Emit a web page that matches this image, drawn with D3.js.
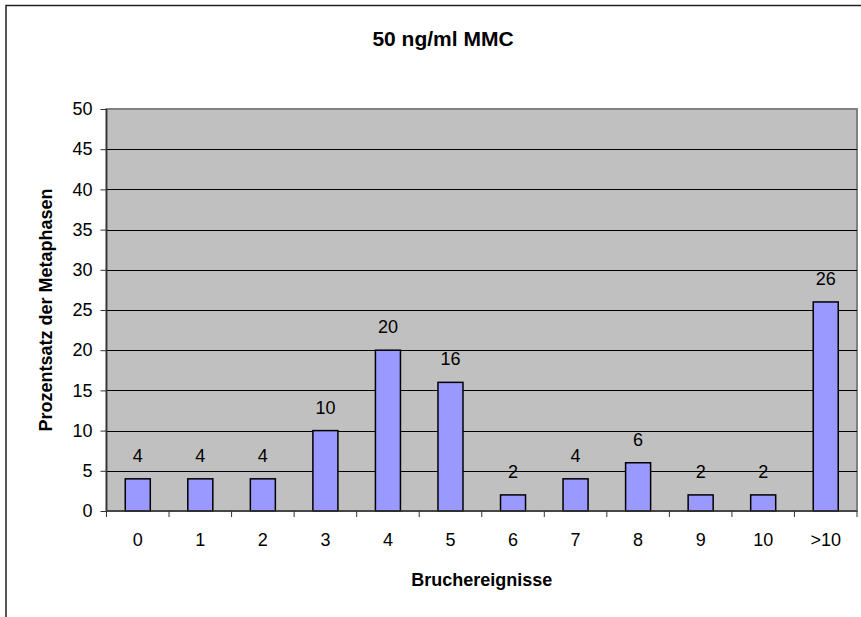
<!DOCTYPE html>
<html><head><meta charset="utf-8">
<script src="https://cdn.jsdelivr.net/npm/d3@7"></script>
<style>body{margin:0;background:#fff}svg{display:block}</style>
</head><body>
<svg id="c" width="861" height="617"></svg>
<script>
const categories = ["0","1","2","3","4","5","6","7","8","9","10",">10"];
const values = [4,4,4,10,20,16,2,4,6,2,2,26];
const yTicks = [0,5,10,15,20,25,30,35,40,45,50];
const title = "50 ng/ml MMC";
const xTitle = "Bruchereignisse";
const yTitle = "Prozentsatz der Metaphasen";

const svg = d3.select("#c");
const font = "Arial, 'Liberation Sans', sans-serif";
const L = 106.5, R = 857, T = 109, B = 511;

svg.append("rect").attr("x",6).attr("y",5.5).attr("width",1000).attr("height",1000)
  .attr("fill","#fff").attr("stroke","#222").attr("stroke-width",1.5);

const x = d3.scaleBand().domain(categories).range([L,R]).paddingInner(0).paddingOuter(0);
const y = d3.scaleLinear().domain([0,50]).range([B,T]);

svg.append("rect").attr("x",L).attr("y",T).attr("width",R-L).attr("height",B-T)
  .attr("fill","#C0C0C0").attr("stroke","#808080").attr("stroke-width",2);

svg.append("g").selectAll("line").data(yTicks.filter(d=>d>0&&d<50)).join("line")
  .attr("x1",L).attr("x2",R).attr("y1",d=>Math.round(y(d))+0.5).attr("y2",d=>Math.round(y(d))+0.5)
  .attr("stroke","#000").attr("stroke-width",1);

const bw = x.bandwidth()/2.5;
svg.append("g").selectAll("rect").data(values).join("rect")
  .attr("x",(d,i)=>x(categories[i])+x.bandwidth()/2-bw/2)
  .attr("y",d=>y(d)).attr("width",bw).attr("height",d=>B-y(d))
  .attr("fill","#9999FF").attr("stroke","#000").attr("stroke-width",1.5);

svg.append("g").selectAll("text").data(values).join("text")
  .attr("x",(d,i)=>x(categories[i])+x.bandwidth()/2)
  .attr("y",d=>y(d)-17)
  .attr("text-anchor","middle").attr("font-family",font).attr("font-size",18).attr("fill","#000")
  .text(d=>d);

// y axis
const ya = svg.append("g").attr("transform",`translate(${L},0)`)
  .call(d3.axisLeft(y).tickValues(yTicks).tickSize(6).tickPadding(8));
ya.select(".domain").attr("stroke","#333").attr("stroke-width",1.5).attr("d",`M-0,${T}V${B}`);
ya.selectAll(".tick line").attr("stroke","#333");
ya.selectAll("text").attr("font-family",font).attr("font-size",18).attr("fill","#000");

// x axis
const xa = svg.append("g").attr("transform",`translate(0,${B})`)
  .call(d3.axisBottom(x).tickSize(0).tickPadding(22));
xa.select(".domain").attr("stroke","#333").attr("stroke-width",1.5).attr("d",`M${L},0H${R}`);
xa.selectAll("text").attr("font-family",font).attr("font-size",18).attr("fill","#000");
xa.selectAll(".sep").data(categories.concat([""])).join("line").attr("class","sep")
  .attr("x1",(d,i)=>L+i*x.step()).attr("x2",(d,i)=>L+i*x.step())
  .attr("y1",0).attr("y2",6).attr("stroke","#333");

svg.append("text").attr("x",443).attr("y",46).attr("text-anchor","middle")
  .attr("font-family",font).attr("font-size",21).attr("font-weight","bold").text(title);
svg.append("text").attr("x",(L+R)/2).attr("y",586).attr("text-anchor","middle")
  .attr("font-family",font).attr("font-size",18).attr("font-weight","bold").text(xTitle);
svg.append("text").attr("transform",`translate(52,${(T+B)/2}) rotate(-90)`).attr("text-anchor","middle")
  .attr("font-family",font).attr("font-size",18).attr("font-weight","bold").text(yTitle);
</script>
</body></html>
